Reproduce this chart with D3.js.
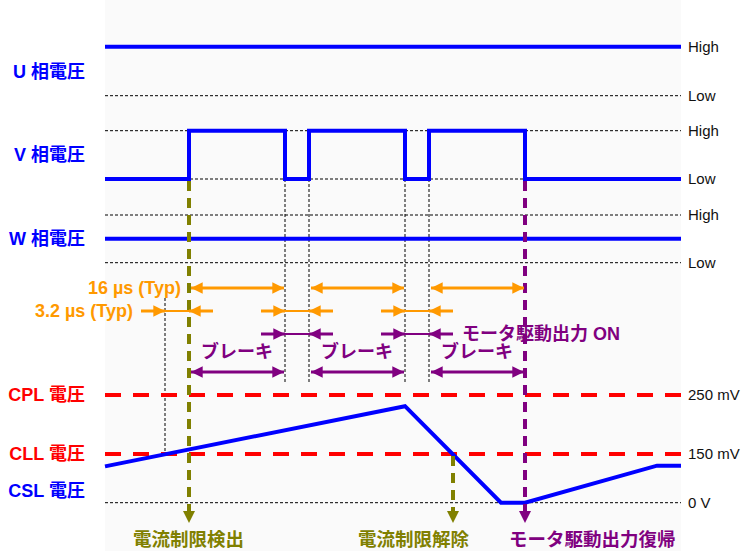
<!DOCTYPE html>
<html>
<head>
<meta charset="utf-8">
<script src="https://cdn.jsdelivr.net/npm/d3@7"></script>
<style>
  body { margin: 0; background: #fff; }
  text { font-family: "Liberation Sans", Arial, "Noto Sans CJK JP", sans-serif; }
</style>
</head>
<body>
<div id="chart"></div>
<script>
// time axis in µs (schematic)
const phases = ["U", "V", "W"];
const phaseLabels = ["U 相電圧", "V 相電圧", "W 相電圧"];
// each phase: [time, level] steps, level 1 = High, 0 = Low, 0.5 = mid (Hi-Z)
const uSteps = [[0, 1], [96, 1]];
const vSteps = [[0, 0], [14, 1], [30, 0], [34, 1], [50, 0], [54, 1], [70, 0], [96, 0]];
const wSteps = [[0, 0.5], [96, 0.5]];
const edgeTimes = [30, 34, 50, 54];
const brakes = [[14, 30], [34, 50], [54, 70]];
const gaps = [[10, 14], [30, 34], [50, 54]];
const onGaps = [[30, 34], [50, 54]];
const tail = 4;
// CSL voltage (mV)
const cslPoints = [[0, 112], [50, 231], [66, 0], [70, 0], [92, 114], [96, 114]];
const levels = [{name: "CPL 電圧", mv: 250, tick: "250 mV"}, {name: "CLL 電圧", mv: 150, tick: "150 mV"}];
const detectT = 14, releaseT = 58, restoreT = 70, cllCrossT = 10;
const events = [
  {t: detectT, label: "電流制限検出", color: "#808000", from: "V"},
  {t: releaseT, label: "電流制限解除", color: "#808000", from: "CLL"},
  {t: restoreT, label: "モータ駆動出力復帰", color: "#800080", from: "V"}
];

const W = 743, H = 551;
const svg = d3.select("#chart").append("svg").attr("width", W).attr("height", H);

const x = d3.scaleLinear().domain([0, 96]).range([105, 681]);
const phaseY = {
  U: d3.scaleLinear().domain([0, 1]).range([95.7, 46.7]),
  V: d3.scaleLinear().domain([0, 1]).range([179, 130.7]),
  W: d3.scaleLinear().domain([0, 1]).range([262.7, 215])
};
const phaseSteps = {U: uSteps, V: vSteps, W: wSteps};
const vy = d3.scaleLinear().domain([0, 150, 250]).range([502.7, 454, 395]);

const blue = "#0000ff", red = "#ff0000", orange = "#ff9900", purple = "#800080";

svg.append("rect").attr("x", x(0)).attr("y", 0).attr("width", x(96) - x(0)).attr("height", H).attr("fill", "#fafafa");

const defs = svg.append("defs");
function marker(id, color, size) {
  defs.append("marker").attr("id", id)
    .attr("viewBox", "0 0 10 10").attr("refX", 10).attr("refY", 5)
    .attr("markerUnits", "userSpaceOnUse")
    .attr("markerWidth", size).attr("markerHeight", size * 0.9)
    .attr("orient", "auto-start-reverse")
    .append("path").attr("d", "M0,0L10,5L0,10Z").attr("fill", color);
}
marker("arO", orange, 13);
marker("arP", purple, 13);

function rightLabel(y, txt) {
  svg.append("text").attr("x", 688).attr("y", y).attr("dy", "0.35em")
    .attr("font-size", 15).attr("fill", "#111").text(txt);
}

// grid dashed lines for High/Low
phases.forEach(function(p) {
  [0, 1].forEach(function(l) {
    svg.append("line").attr("x1", x(0)).attr("x2", x(96))
      .attr("y1", phaseY[p](l)).attr("y2", phaseY[p](l))
      .attr("stroke", "#000").attr("stroke-width", 1).attr("stroke-dasharray", "3,2");
    rightLabel(phaseY[p](l), l ? "High" : "Low");
  });
});
svg.append("line").attr("x1", x(0)).attr("x2", x(96)).attr("y1", vy(0)).attr("y2", vy(0))
  .attr("stroke", "#000").attr("stroke-width", 1).attr("stroke-dasharray", "3,2");
rightLabel(vy(0), "0 V");

// dotted edge verticals
edgeTimes.forEach(function(t) {
  svg.append("line").attr("x1", x(t)).attr("x2", x(t)).attr("y1", phaseY.V(0)).attr("y2", 383)
    .attr("stroke", "#000").attr("stroke-width", 1).attr("stroke-dasharray", "3,2");
});
svg.append("line").attr("x1", x(cllCrossT)).attr("x2", x(cllCrossT)).attr("y1", 298).attr("y2", vy(150))
  .attr("stroke", "#000").attr("stroke-width", 1).attr("stroke-dasharray", "3,2");

// threshold lines
levels.forEach(function(l) {
  svg.append("line").attr("x1", x(0)).attr("x2", x(96)).attr("y1", vy(l.mv)).attr("y2", vy(l.mv))
    .attr("stroke", red).attr("stroke-width", 4).attr("stroke-dasharray", "16,12");
  rightLabel(vy(l.mv), l.tick);
});

// phase signals
const step = d3.line().x(function(d) { return x(d[0]); }).curve(d3.curveStepAfter);
phases.forEach(function(p) {
  svg.append("path").datum(phaseSteps[p])
    .attr("d", step.y(function(d) { return phaseY[p](d[1]); }))
    .attr("fill", "none").attr("stroke", blue).attr("stroke-width", 4);
});

// CSL
svg.append("path").datum(cslPoints)
  .attr("d", d3.line().x(function(d) { return x(d[0]); }).y(function(d) { return vy(d[1]); }))
  .attr("fill", "none").attr("stroke", blue).attr("stroke-width", 4);

// event lines with down arrows
events.forEach(function(e) {
  const y1 = (e.from === "V" ? phaseY.V(0) : vy(150)) + 2;
  svg.append("line").attr("x1", x(e.t)).attr("x2", x(e.t)).attr("y1", y1).attr("y2", 512)
    .attr("stroke", e.color).attr("stroke-width", 4).attr("stroke-dasharray", "10,7");
  svg.append("path")
    .attr("d", "M" + (x(e.t) - 6) + ",511L" + (x(e.t) + 6) + ",511L" + x(e.t) + ",523Z")
    .attr("fill", e.color);
});

// 16 µs arrows and brake arrows
const row1 = 288, row2 = 311, row3 = 334, row4 = 372;
brakes.forEach(function(b) {
  svg.append("line").attr("x1", x(b[0]) + 2).attr("x2", x(b[1]) - 1).attr("y1", row1).attr("y2", row1)
    .attr("stroke", orange).attr("stroke-width", 3)
    .attr("marker-start", "url(#arO)").attr("marker-end", "url(#arO)");
  svg.append("line").attr("x1", x(b[0]) + 2).attr("x2", x(b[1]) - 1).attr("y1", row4).attr("y2", row4)
    .attr("stroke", purple).attr("stroke-width", 3)
    .attr("marker-start", "url(#arP)").attr("marker-end", "url(#arP)");
  svg.append("text").attr("x", (x(b[0]) + x(b[1])) / 2).attr("y", row4 - 14)
    .attr("text-anchor", "middle").attr("font-size", 18).attr("font-weight", "bold")
    .attr("fill", purple).text("ブレーキ");
});

function gapArrows(g, y, color, mk) {
  svg.append("line").attr("x1", x(g[0] - tail)).attr("x2", x(g[0])).attr("y1", y).attr("y2", y)
    .attr("stroke", color).attr("stroke-width", 3).attr("marker-end", "url(#" + mk + ")");
  svg.append("line").attr("x1", x(g[1] + tail)).attr("x2", x(g[1])).attr("y1", y).attr("y2", y)
    .attr("stroke", color).attr("stroke-width", 3).attr("marker-end", "url(#" + mk + ")");
  svg.append("line").attr("x1", x(g[0])).attr("x2", x(g[1])).attr("y1", y).attr("y2", y)
    .attr("stroke", color).attr("stroke-width", 2);
}
gaps.forEach(function(g) { gapArrows(g, row2, orange, "arO"); });
onGaps.forEach(function(g) { gapArrows(g, row3, purple, "arP"); });

svg.append("text").attr("x", 181).attr("y", row1).attr("dy", "0.35em").attr("text-anchor", "end")
  .attr("font-size", 18).attr("font-weight", "bold").attr("fill", orange).text("16 µs (Typ)");
svg.append("text").attr("x", 133).attr("y", row2).attr("dy", "0.35em").attr("text-anchor", "end")
  .attr("font-size", 18).attr("font-weight", "bold").attr("fill", orange).text("3.2 µs (Typ)");
svg.append("text").attr("x", 462).attr("y", row3).attr("dy", "0.35em")
  .attr("font-size", 18).attr("font-weight", "bold").attr("fill", purple).text("モータ駆動出力 ON");

// left labels
function leftLabel(y, txt, color) {
  svg.append("text").attr("x", 85).attr("y", y).attr("dy", "0.35em").attr("text-anchor", "end")
    .attr("font-size", 18).attr("font-weight", "bold").attr("fill", color).text(txt);
}
leftLabel(72, phaseLabels[0], blue);
leftLabel((phaseY.V(0) + phaseY.V(1)) / 2, phaseLabels[1], blue);
leftLabel(phaseY.W(0.5), phaseLabels[2], blue);
levels.forEach(function(l) { leftLabel(vy(l.mv), l.name, red); });
leftLabel(491, "CSL 電圧", blue);

// bottom event labels
const labelLeft = [133, 358, 509];
events.forEach(function(e, i) {
  svg.append("text").attr("x", labelLeft[i]).attr("y", 540).attr("dy", "0.35em")
    .attr("font-size", 18.5).attr("font-weight", "bold").attr("fill", e.color).text(e.label);
});
</script>
</body>
</html>
